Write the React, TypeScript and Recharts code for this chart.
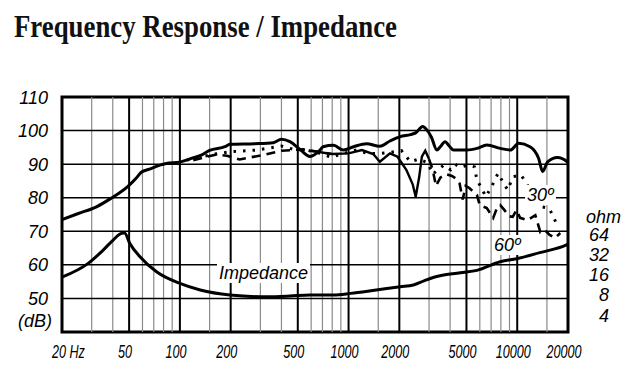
import React from 'react';
import { ComposedChart, Line, XAxis, YAxis, ReferenceLine, ReferenceArea } from 'recharts';

// ---- axes / grid ----
const xTicks = [20, 50, 100, 200, 500, 1000, 2000, 5000, 10000, 20000];
const xTickLabels = ['20 Hz', '50', '100', '200', '500', '1000', '2000', '5000', '10000', '20000'];
const majorFreqGrid = [50, 100, 200, 500, 1000, 2000, 5000, 10000];
const minorFreqGrid = [30, 40, 60, 70, 80, 90, 150, 300, 400, 600, 700, 800, 900, 1500, 3000, 4000, 6000, 7000, 8000, 9000, 15000];
const dbTicks = [50, 60, 70, 80, 90, 100, 110];
const dbGrid = [50, 60, 70, 80, 90, 100];
const ohmTicks = [4, 8, 16, 32, 64];

// ---- series: [frequency Hz, value] ----
const onAxisDb: [number, number][] = [
  [20, 73.5], [25, 75.3], [32, 77.3], [39, 79.8], [49, 83.3], [55, 85.8], [59, 87.6], [66, 88.5],
  [76, 89.7], [83, 90.2], [100, 90.6], [117, 91.7], [134, 92.7], [150, 94.1], [185, 95.2], [198, 95.9],
  [277, 96.1], [358, 96.4], [400, 97.4], [449, 96.7], [515, 94.4], [590, 92.3], [678, 94.2], [706, 95.2],
  [816, 95.6], [930, 94.2], [1071, 95.2], [1277, 96.1], [1533, 95.3], [1760, 96.9], [2025, 98.2],
  [2327, 98.8], [2500, 99.3], [2750, 101.2], [2913, 100.2], [3100, 98.0], [3340, 94.2], [3500, 95.2],
  [3735, 96.7], [3950, 95.4], [4190, 94.2], [5025, 94.2], [5775, 94.7], [6610, 95.7], [7930, 94.7],
  [9100, 94.2], [10200, 96.2], [11900, 95.2], [13400, 91.7], [14150, 87.8], [15150, 90.7],
  [17300, 92.0], [19800, 90.7], [20000, 90.5],
];

const thirtyDegDb: [number, number][] = [
  [110, 91.2], [125, 91.8], [160, 93.0], [200, 93.7], [285, 94.2], [400, 95.4], [480, 94.3], [565, 94.2],
  [678, 93.2], [793, 92.0], [900, 93.0], [1030, 93.7], [1115, 94.2], [1300, 93.2], [1533, 93.2],
  [1760, 93.5], [2060, 94.0], [2327, 90.7], [2600, 91.5], [2950, 90.4], [3150, 87.0], [3670, 89.7],
  [4030, 88.3], [4300, 90.0], [4550, 89.0], [5130, 89.7], [5580, 89.2], [5770, 85.3], [6200, 82.5],
  [6500, 80.3], [7000, 83.0], [7700, 87.3], [8400, 83.8], [8800, 82.3], [9400, 86.2], [10500, 86.8],
  [11200, 84.8], [12000, 82.0], [13400, 77.5], [15500, 76.8], [16900, 72.8],
];

const sixtyDegDb: [number, number][] = [
  [120, 91.2], [140, 92.0], [165, 92.9], [190, 92.5], [226, 91.4], [260, 92.0], [312, 92.7], [400, 94.0],
  [539, 94.4], [600, 94.0], [800, 93.0], [1000, 93.2], [1200, 94.2], [1400, 93.0], [1533, 90.7],
  [1760, 93.2], [1950, 92.2], [2200, 88.3], [2400, 84.0], [2500, 80.3], [2620, 86.0], [2720, 92.2],
  [2850, 94.0], [3000, 91.5], [3150, 88.5], [3300, 83.5], [3500, 86.0], [3800, 87.0], [4100, 86.5],
  [4300, 85.8], [4550, 84.3], [4750, 79.5], [4950, 83.5], [5200, 82.9], [5770, 80.8], [6000, 77.8],
  [6600, 76.9], [7200, 74.0], [7600, 77.0], [7930, 77.8], [8400, 76.3], [8900, 74.5], [9400, 74.3],
  [9900, 76.3], [10400, 74.0], [11500, 73.3], [12800, 74.8], [13700, 69.8], [14500, 70.5],
  [15500, 69.0], [16800, 68.0], [18000, 69.5],
];
// frequency range where the 60° trace is drawn solid
const sixtySolidRange = [950, 2900];

const impedanceOhm: [number, number][] = [
  [20, 14.8], [28.6, 23.8], [35.1, 37.6], [40.2, 53.2], [45, 66.9], [47, 68.0], [50.5, 47.2], [58, 29.9],
  [72.7, 17.8], [100, 11.9], [132, 9.5], [198, 8.0], [326, 7.5], [449, 7.7], [590, 8.0], [816, 8.0],
  [1030, 8.45], [1460, 9.5], [2025, 10.6], [2424, 11.3], [2800, 13.0], [3170, 14.6], [4600, 17.2], [5770, 18.7],
  [7930, 25.2], [10200, 28.3], [13600, 34.4], [19600, 44.9], [20000, 46.0],
];

const toRows = (arr: [number, number][]) => arr.map(([f, v]) => ({ f, v }));

const SANS = "'Liberation Sans', Arial, sans-serif";

const XTick = (props: any) => {
  const { x, y, payload } = props;
  const i = xTicks.indexOf(payload.value);
  const label = xTickLabels[i] ?? String(payload.value);
  const first = i === 0;
  return (
    <text
      transform={`translate(${first ? x - 10 : x - 4}, ${y}) scale(0.7,1)`}
      textAnchor={first ? 'start' : 'middle'}
      fontFamily={SANS}
      fontStyle="italic"
      fontSize={18}
      fill="#000"
    >
      {label}
    </text>
  );
};

const YTick = (props: any) => {
  const { x, y, payload } = props;
  return (
    <g>
      <text x={x} y={y + 6.5} textAnchor="end" fontFamily={SANS} fontStyle="italic" fontSize={18} fill="#000">
        {payload.value}
      </text>
      {payload.value === 50 && (
        <text x={x + 4} y={y + 28.5} textAnchor="end" fontFamily={SANS} fontStyle="italic" fontSize={18} fill="#000">
          (dB)
        </text>
      )}
    </g>
  );
};

const OhmTick = (props: any) => {
  const { x, y, payload } = props;
  return (
    <text x={x} y={y + 6.5} textAnchor="end" fontFamily={SANS} fontStyle="italic" fontSize={18} fill="#000">
      {payload.value}
    </text>
  );
};

const labelStyle: React.CSSProperties = {
  position: 'absolute',
  fontFamily: SANS,
  fontStyle: 'italic',
  fontSize: 18,
  lineHeight: '20px',
  background: '#fff',
  padding: '0 2px',
  color: '#000',
  whiteSpace: 'nowrap',
};

export default function App() {
  const sixtyRows = toRows(sixtyDegDb);
  const sixtyDashed = sixtyRows.map((r) => ({
    f: r.f,
    v: r.f > sixtySolidRange[0] && r.f < sixtySolidRange[1] ? null : r.v,
  }));
  const sixtySolid = sixtyRows.map((r) => ({
    f: r.f,
    v: r.f >= sixtySolidRange[0] - 400 && r.f <= sixtySolidRange[1] + 150 ? r.v : null,
  }));

  return (
    <div style={{ position: 'absolute', left: 0, top: 0, width: 631, height: 382, background: '#fff' }}>
      <svg width={631} height={50} style={{ position: 'absolute', left: 0, top: 0 }}>
        <text
          x={14}
          y={37}
          fontFamily="'Liberation Serif', 'Times New Roman', serif"
          fontWeight="bold"
          fontSize={31}
          textLength={383}
          lengthAdjust="spacingAndGlyphs"
          fill="#111"
        >
          Frequency Response / Impedance
        </text>
      </svg>
      <div style={{ position: 'absolute', left: 0, top: 0 }}>
        <ComposedChart width={631} height={382} margin={{ top: 97, right: 13, bottom: 20, left: 12 }}>
          <XAxis
            dataKey="f"
            type="number"
            scale="log"
            domain={[20, 20000]}
            allowDataOverflow
            ticks={xTicks}
            tick={<XTick />}
            tickLine={false}
            axisLine={false}
            tickSize={0}
            tickMargin={26}
            height={30}
            interval={0}
          />
          <YAxis
            type="number"
            domain={[40, 110]}
            allowDataOverflow
            ticks={dbTicks}
            tick={<YTick />}
            tickLine={false}
            axisLine={false}
            tickSize={0}
            tickMargin={14}
            width={50}
            interval={0}
          />
          <YAxis
            yAxisId="ohm"
            orientation="right"
            type="number"
            scale="log"
            domain={[2.23, 7380]}
            allowDataOverflow
            ticks={ohmTicks}
            tick={<OhmTick />}
            tickLine={false}
            axisLine={false}
            tickSize={0}
            tickMargin={41}
            width={50}
            interval={0}
          />
          {minorFreqGrid.map((f) => (
            <ReferenceLine key={'mn' + f} x={f} stroke="#8a8a8a" strokeWidth={1.2} />
          ))}
          {dbGrid.map((d) => (
            <ReferenceLine key={'h' + d} y={d} stroke="#000" strokeWidth={1.5} />
          ))}
          {majorFreqGrid.map((f) => (
            <ReferenceLine key={'mj' + f} x={f} stroke="#000" strokeWidth={2} />
          ))}
          <Line data={toRows(impedanceOhm)} yAxisId="ohm" dataKey="v" type="monotone" stroke="#000" strokeWidth={3} dot={false} isAnimationActive={false} />
          <Line data={sixtyDashed} dataKey="v" type="linear" stroke="#000" strokeWidth={2.6} strokeDasharray="9 6" dot={false} connectNulls={false} isAnimationActive={false} />
          <Line data={sixtySolid} dataKey="v" type="linear" stroke="#000" strokeWidth={2.4} dot={false} connectNulls={false} isAnimationActive={false} />
          <Line data={toRows(thirtyDegDb)} dataKey="v" type="linear" stroke="#000" strokeWidth={3} strokeDasharray="2.5 7" dot={false} isAnimationActive={false} />
          <Line data={toRows(onAxisDb)} dataKey="v" type="monotone" stroke="#000" strokeWidth={3} dot={false} isAnimationActive={false} />
          <ReferenceArea x1={20} x2={20000} y1={40} y2={110} fill="none" fillOpacity={0} stroke="#000" strokeWidth={3} />
        </ComposedChart>
      </div>
      <div style={{ ...labelStyle, left: 217, top: 263 }}>Impedance</div>
      <div style={{ ...labelStyle, left: 525, top: 185 }}>30º</div>
      <div style={{ ...labelStyle, left: 492, top: 235 }}>60º</div>
      <div style={{ ...labelStyle, left: 584, top: 210, lineHeight: '15px', background: 'transparent' }}>ohm</div>
    </div>
  );
}
